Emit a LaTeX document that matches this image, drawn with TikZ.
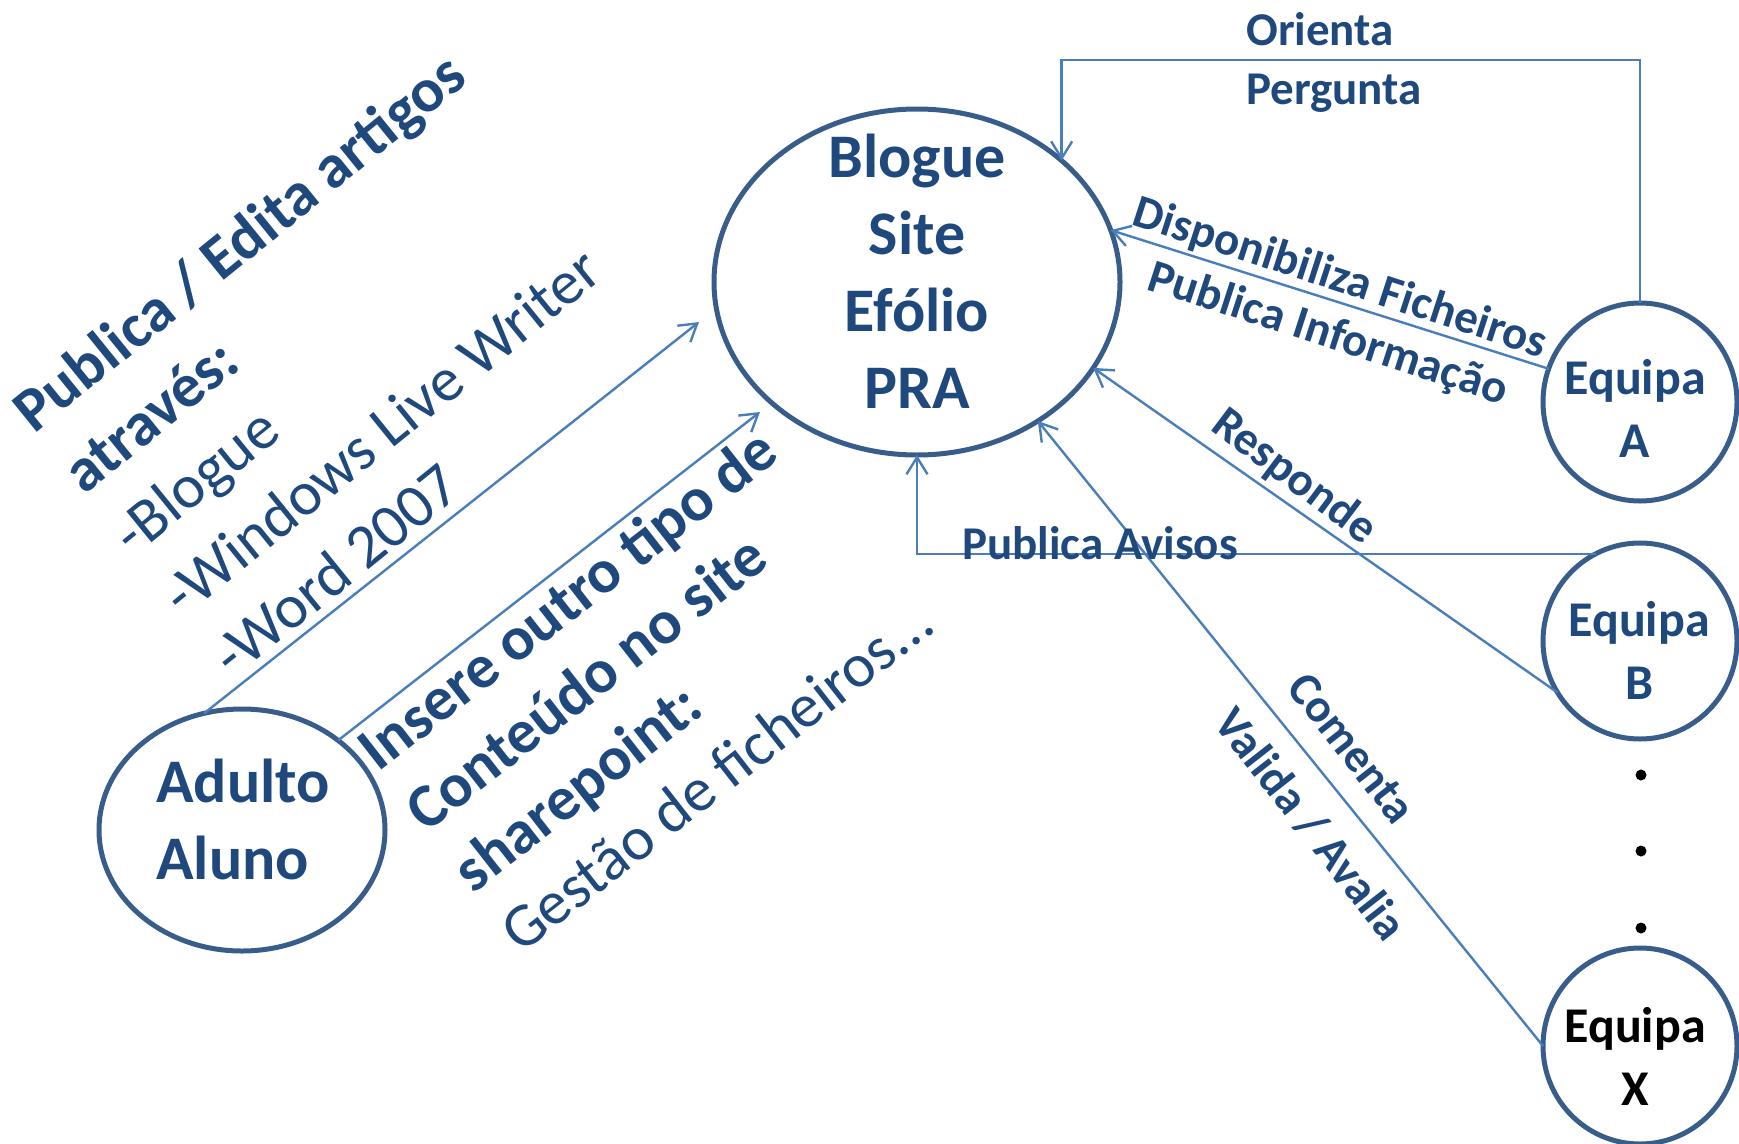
\documentclass[tikz,border=0pt]{standalone}
\usepackage{fontspec}
\setmainfont{Carlito}
\usetikzlibrary{arrows.meta,shapes.geometric}
\definecolor{txtblue}{HTML}{1F497D}
\definecolor{rimblue}{HTML}{385D8A}
\definecolor{linkblue}{HTML}{4A7EBB}
\tikzset{>={Straight Barb[length=17pt,width=21pt]}}
\tikzset{
  bubble/.style={ellipse,draw=rimblue,line width=5pt,inner sep=0pt,outer sep=0pt},
  link/.style={draw=linkblue,line width=2.4pt},
  bigtxt/.style={font=\fontsize{62}{77}\selectfont\bfseries,text=txtblue,inner sep=0pt},
  sidetxt/.style={font=\fontsize{62}{77}\selectfont,text=txtblue,inner sep=0pt,align=left},
  eqtxt/.style={font=\fontsize{50}{63}\selectfont\bfseries,text=txtblue,inner sep=0pt,align=center},
  lbl/.style={font=\fontsize{47}{56}\selectfont\bfseries,text=txtblue,inner sep=0pt}
}

\begin{document}
\begin{tikzpicture}[x=1pt,y=-1pt]
	\useasboundingbox (0,0) rectangle (1739,1143);
	% bubbles
	\node[bubble,minimum width=406pt,minimum height=346pt] (blog) at (917,282) {};
	\node[bubble,minimum width=286pt,minimum height=242pt] (aluno) at (242,830) {};
	\node[bubble,minimum width=194pt,minimum height=198pt] (eqA) at (1640,402) {};
	\node[bubble,minimum width=194pt,minimum height=196pt] (eqB) at (1640,641) {};
	\node[bubble,minimum width=194pt,minimum height=196pt] (eqX) at (1640,1046) {};
	\node[bigtxt,align=center,anchor=base] (blogtxt) at (917,408) {Blogue\\Site\\Efólio\\PRA};
	\node[bigtxt,align=left,anchor=base west] (alunotxt) at (156,879) {Adulto\\Aluno};
	\node[eqtxt,anchor=base] (eqAtxt) at (1635,457) {Equipa\\A};
	\node[eqtxt,anchor=base] (eqBtxt) at (1639,699) {Equipa\\B};
	\node[eqtxt,anchor=base,text=black] (eqXtxt) at (1635,1105) {Equipa\\X};
	\foreach \y in {775,851,928}
		\fill (1641,\y) circle [radius=5.5pt];
	% connectors
	\coordinate (tipA) at (699,322);
	\coordinate (tipB) at (760,412);
	\draw[link,->] (eqA.north) -- ++(0,-243) -| (blog.40.7);
	\draw[link,->] (eqA.160) -- (blog.15);
	\draw[link,->] (eqB.212) -- (blog.334.5);
	\draw[link,->] (eqB.117) -| (blog.south);
	\draw[link,->] (eqX.west) -- (blog.311.7);
	\draw[link,->] (aluno.108) -- (tipA);
	\draw[link,->] (aluno.43) -- (tipB);
	% labels
	\node[lbl] (orienta) at (1320,29) {Orienta};
	\node[lbl] (pergunta) at (1334,93) {Pergunta};
	\node[lbl,rotate=-18] (disp) at (1340,279) {Disponibiliza Ficheiros};
	\node[lbl,rotate=-18] (pubinf) at (1328,335) {Publica Informação};
	\node[lbl,rotate=-37] (resp) at (1294,477) {Responde};
	\node[lbl] (avisos) at (1100,543) {Publica Avisos};
	\node[lbl,rotate=-52] (comenta) at (1352,748) {Comenta};
	\node[lbl,rotate=-52] (valida) at (1311,824) {Valida / Avalia};
	\node[sidetxt,font=\fontsize{62}{79}\selectfont,rotate=39,anchor=base west] (pubtxt) at (233,680)
		{\textbf{Publica / Edita artigos}\\\textbf{através:}\\-Blogue\\-Windows Live Writer\\-Word 2007};
	\node[sidetxt,rotate=38,anchor=base west] (sharetxt) at (521,955)
		{\textbf{Insere outro tipo de}\\\textbf{Conteúdo no site}\\\textbf{sharepoint:}\\Gestão de ficheiros...};
\end{tikzpicture}
\end{document}
